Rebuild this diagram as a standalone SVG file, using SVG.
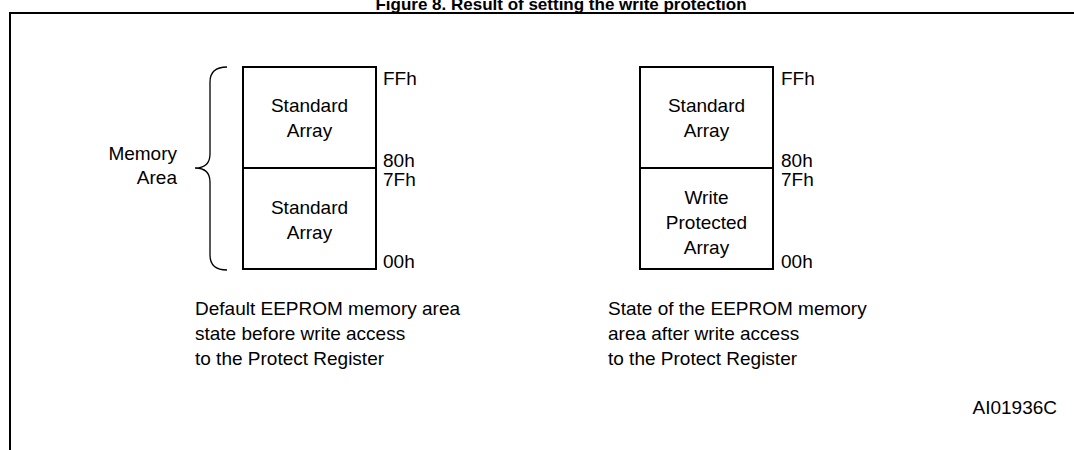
<svg xmlns="http://www.w3.org/2000/svg" width="1074" height="450" viewBox="0 0 1074 450">
<style>
text{font-family:"Liberation Sans",Arial,sans-serif;font-size:19px;fill:#000}
.title{font-weight:bold;font-size:17px;text-anchor:middle}
.c{text-anchor:middle}
.r{text-anchor:end}
.box{fill:#fff;stroke:#000;stroke-width:2}
.brace{fill:none;stroke:#000;stroke-width:1.3}
</style>
<rect width="1074" height="450" fill="#fff"/>
<text class="title" x="561" y="10">Figure 8. Result of setting the write protection</text>
<path d="M10,450 V13 H1074" fill="none" stroke="#000" stroke-width="2"/>
<g id="brace">
<path class="brace" d="M227,67 Q210,67 210,82 V154 Q210,168 195,168 Q210,168 210,182 V255 Q210,270 227,270"/>
<text class="r" x="177" y="160">Memory</text>
<text class="r" x="177" y="184">Area</text>
</g>
<g id="left-upper">
<rect class="box" x="243" y="67" width="133" height="101"/>
<text class="c" x="309.5" y="112">Standard</text>
<text class="c" x="309.5" y="137">Array</text>
</g>
<g id="left-lower">
<rect class="box" x="243" y="168" width="133" height="101"/>
<text class="c" x="309.5" y="214">Standard</text>
<text class="c" x="309.5" y="239">Array</text>
</g>
<g id="left-labels">
<text x="383" y="85">FFh</text>
<text x="383" y="167">80h</text>
<text x="383" y="186">7Fh</text>
<text x="383" y="268">00h</text>
</g>
<g id="right-upper">
<rect class="box" x="640" y="67" width="133" height="101"/>
<text class="c" x="706.5" y="112">Standard</text>
<text class="c" x="706.5" y="137">Array</text>
</g>
<g id="right-lower">
<rect class="box" x="640" y="168" width="133" height="101"/>
<text class="c" x="706.5" y="204">Write</text>
<text class="c" x="706.5" y="229">Protected</text>
<text class="c" x="706.5" y="254">Array</text>
</g>
<g id="right-labels">
<text x="781" y="85">FFh</text>
<text x="781" y="167">80h</text>
<text x="781" y="186">7Fh</text>
<text x="781" y="268">00h</text>
</g>
<g id="captions">
<text x="195" y="315">Default EEPROM memory area</text>
<text x="195" y="340">state before write access</text>
<text x="195" y="365">to the Protect Register</text>
<text x="608" y="315">State of the EEPROM memory</text>
<text x="608" y="340">area after write access</text>
<text x="608" y="365">to the Protect Register</text>
<text class="r" x="1057" y="414">AI01936C</text>
</g>
<g id="connectors"></g>
</svg>
